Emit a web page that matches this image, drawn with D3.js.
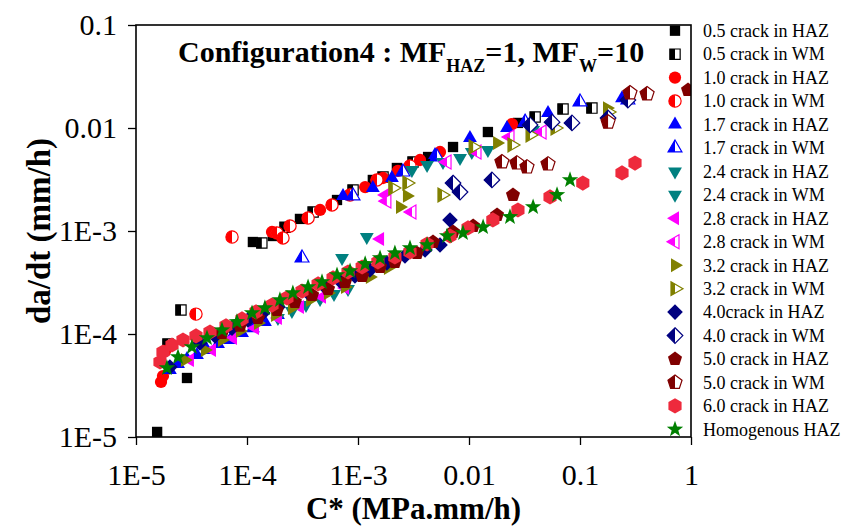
<!DOCTYPE html>
<html lang="en">
<head>
<meta charset="utf-8">
<title>Configuration4 - da/dt vs C*</title>
<script src="https://cdn.jsdelivr.net/npm/d3@7"></script>
<style>
  body { margin: 0; background: #fff; }
  text { font-family: "Liberation Serif", "Times New Roman", serif; fill: #000; }
</style>
</head>
<body>
<div id="chart"></div>
<script>
// ---- data : [C* (MPa.mm/h), da/dt (mm/h)] ----
const s05HAZ = [[1.55e-5,1.12e-5],[2.88e-5,3.74e-5],[1.13e-4,7.82e-4],[1.71e-4,8.94e-4],[3.0e-4,1.31e-3],[6.47e-4,2.0e-3],
  [1.36e-3,3.13e-3],[2.24e-3,4.09e-3],[4.28e-3,5.23e-3],[7.18e-3,6.54e-3],[1.48e-2,9.14e-3],[2.76e-2,1.12e-2]];
const s05WM = [[1.94e-5,8.0e-5],[2.54e-5,1.71e-4],[1.36e-4,7.65e-4],[2.2e-4,1.09e-3],[3.94e-4,1.53e-3],[9.02e-4,2.5e-3],
  [1.68e-3,3.34e-3],[3.13e-3,4.68e-3],[3.94e-2,1.28e-2],[7.03e-2,1.53e-2],[0.128,1.56e-2]];
const s10HAZ = [[1.68e-5,3.42e-5],[1.75e-5,3.91e-5],[1.83e-5,6.84e-5],[1.68e-4,9.78e-4],[4.55e-4,1.6e-3],[1.16e-3,2.67e-3],
  [1.68e-3,3.27e-3],[2.29e-3,3.83e-3],[3.62e-3,4.89e-3],[5.48e-3,5.85e-3],[2.44e-2,1.09e-2]];
const s10WM = [[3.47e-5,1.56e-4],[7.33e-5,8.75e-4],[1.86e-4,9.57e-4],[2.11e-4,8.56e-4],[2.44e-4,1.12e-3],[3.55e-4,1.34e-3],
  [5.83e-4,1.79e-3],[8.48e-4,2.24e-3],[1.48e-3,3.13e-3],[2.94e-3,4.28e-3]];
const s17HAZ = [[2.02e-5,4.47e-5],[2.39e-5,5.12e-5],[2.88e-5,5.72e-5],[3.54e-5,6.25e-5],[4.36e-5,6.99e-5],[5.48e-5,8.0e-5],
  [7.03e-5,8.74e-5],[9.02e-5,1.02e-4],[1.13e-4,1.14e-4],[1.45e-4,1.31e-4],[1.9e-4,1.53e-4],[7.33e-4,2.19e-3],
  [1.36e-3,2.61e-3],[2.02e-3,3.27e-3],[4.94e-3,5.47e-3],[1.02e-2,8.0e-3],[2.2e-2,1.0e-2],[5.15e-2,1.4e-2],[0.239,1.95e-2]];
const s17WM = [[3.13e-4,5.47e-4],[9.02e-4,2.19e-3],[2.54e-3,3.74e-3],[5.15e-3,5.23e-3],[3.2e-2,1.14e-2],[0.1,1.79e-2],[0.27,1.87e-2]];
const s24HAZ = [[1.9e-4,1.43e-4],[2.54e-4,1.67e-4],[3.4e-4,1.91e-4],[4.55e-4,2.19e-4],[6.08e-4,2.45e-4],[8.13e-4,2.73e-4],
  [7.18e-4,5.47e-4],[1.2e-3,8.75e-4]];
const s24WM = [[3.06e-3,3.91e-3],[4.19e-3,4.37e-3],[5.83e-3,4.68e-3],[8.3e-3,5.12e-3],[1.06e-2,5.85e-3],[1.48e-2,6.11e-3],[3.78e-2,9.57e-3]];
const s28HAZ = [[3.06e-5,5.59e-5],[4.84e-5,6.99e-5],[7.48e-5,9.14e-5],[1.18e-4,1.14e-4],[1.9e-4,1.43e-4],[3.0e-4,1.83e-4],
  [4.74e-4,2.29e-4],[7.64e-4,2.8e-4],[1.16e-3,4.18e-4],[1.58e-3,8.36e-4],[1.75e-3,2.24e-3]];
const s28WM = [[1.82e-3,1.95e-3],[3.06e-3,1.53e-3],[6.34e-3,4.68e-3],[1.18e-2,5.85e-3],[2.34e-2,8.18e-3],[4.55e-2,9.14e-3]];
const s32HAZ = [[2.76e-5,5.59e-5],[4.18e-5,6.99e-5],[5.95e-5,8.74e-5],[8.65e-5,1.07e-4],[1.256e-4,1.28e-4],[1.79e-4,1.53e-4],
  [2.54e-4,1.79e-4],[3.7e-4,2.14e-4],[5.37e-4,2.5e-4],[7.64e-4,2.86e-4],[1.28e-3,3.58e-4],[1.86e-3,4.37e-4],
  [2.39e-3,1.71e-3],[2.76e-3,2.19e-3],[1.79e-2,7.15e-3],[0.175,1.56e-2]];
const s32WM = [[2.06e-3,2.61e-3],[2.76e-3,2.92e-3],[5.71e-3,2.24e-3],[1.09e-2,6.54e-3],[2.44e-2,6.84e-3],[3.55e-2,8.56e-3],
  [5.96e-2,1.0e-2],[0.179,1.43e-2]];
const s40HAZ = [[2.02e-5,4.79e-5],[3.77e-5,8.18e-5],[5.15e-5,9.57e-5],[7.33e-5,1.14e-4],[1.02e-4,1.37e-4],[1.39e-4,1.6e-4],
  [1.9e-4,1.83e-4],[2.59e-4,2.14e-4],[3.55e-4,2.5e-4],[5.04e-4,2.86e-4],[6.89e-4,3.27e-4],[9.39e-4,3.66e-4],
  [1.28e-3,4.18e-4],[1.82e-3,4.89e-4],[2.65e-3,5.72e-4],[4.02e-3,6.54e-4],[5.48e-3,7.31e-4],[6.74e-3,1.28e-3]];
const s40WM = [[7.18e-3,2.92e-3],[8.3e-3,2.39e-3],[1.61e-2,3.13e-3],[3.55e-2,1.07e-2],[5.6e-2,1.14e-2],[8.47e-2,1.12e-2],
  [0.179,1.25e-2],[0.27,1.87e-2]];
const s50HAZ = [[5.95e-5,1.02e-4],[8.65e-5,1.2e-4],[1.256e-4,1.43e-4],[1.86e-4,1.71e-4],[2.7e-4,2.05e-4],[3.86e-4,2.39e-4],
  [5.37e-4,2.73e-4],[7.64e-4,3.2e-4],[1.09e-3,3.66e-4],[1.58e-3,4.47e-4],[2.15e-3,5.0e-4],[3.4e-3,6.11e-4],
  [4.74e-3,7.82e-4],[7.18e-3,9.78e-4],[1.09e-2,1.12e-3],[1.79e-2,1.43e-3],[2.49e-2,2.24e-3],[0.94,2.34e-2]];
const s50WM = [[1.98e-2,4.68e-3],[2.7e-2,4.57e-3],[3.33e-2,4.18e-3],[5.15e-2,4.47e-3],[0.179,1.14e-2],[0.282,2.19e-2],[0.402,2.14e-2]];
const s60HAZ = [[1.645e-5,5.35e-5],[1.75e-5,6.68e-5],[2.11e-5,7.82e-5],[2.65e-5,8.74e-5],[3.47e-5,9.57e-5],[4.64e-5,1.045e-4],
  [6.47e-5,1.2e-4],[9.02e-5,1.4e-4],[1.205e-4,1.64e-4],[1.68e-4,1.91e-4],[2.29e-4,2.24e-4],[3.13e-4,2.61e-4],
  [4.37e-4,3.06e-4],[5.96e-4,3.5e-4],[8.13e-4,4.0e-4],[1.09e-3,4.47e-4],[1.51e-3,5.0e-4],[2.15e-3,5.6e-4],
  [2.94e-3,6.25e-4],[4.19e-3,7.48e-4],[6.74e-3,8.94e-4],[9.8e-3,1.07e-3],[1.64e-2,1.28e-3],[2.76e-2,1.6e-3],
  [5.37e-2,2.14e-3],[0.106,2.92e-3],[0.239,3.66e-3],[0.313,4.57e-3]];
const sHomo = [[1.9e-5,4.68e-5],[2.39e-5,5.98e-5],[3.19e-5,7.48e-5],[4.36e-5,9.14e-5],[5.95e-5,1.09e-4],[8.12e-5,1.31e-4],
  [1.11e-4,1.6e-4],[1.45e-4,1.79e-4],[1.98e-4,2.14e-4],[2.59e-4,2.5e-4],[3.55e-4,2.86e-4],[4.74e-4,3.2e-4],
  [6.47e-4,3.74e-4],[8.48e-4,4.09e-4],[1.16e-3,4.79e-4],[1.58e-3,5.47e-4],[2.15e-3,6.11e-4],[2.94e-3,6.84e-4],
  [4.19e-3,7.31e-4],[6.34e-3,8.94e-4],[8.83e-3,9.57e-4],[1.34e-2,1.09e-3],[2.34e-2,1.37e-3],[3.78e-2,1.71e-3],
  [6.21e-2,2.24e-3],[8.13e-2,3.13e-3]];

const xTicks = [1e-5, 1e-4, 1e-3, 0.01, 0.1, 1];
const xTickLabels = ["1E-5", "1E-4", "1E-3", "0.01", "0.1", "1"];
const yTicks = [1e-5, 1e-4, 1e-3, 0.01, 0.1];
const yTickLabels = ["1E-5", "1E-4", "1E-3", "0.01", "0.1"];

// series: name, data, marker, colour, fill ("full" or "half")
const series = [
  {name: "0.5 crack in HAZ", data: s05HAZ, shape: "square", color: "#000000", fill: "full"},
  {name: "0.5 crack in WM", data: s05WM, shape: "square", color: "#000000", fill: "half"},
  {name: "1.0 crack in HAZ", data: s10HAZ, shape: "circle", color: "#ff0000", fill: "full"},
  {name: "1.0 crack in WM", data: s10WM, shape: "circle", color: "#ff0000", fill: "half"},
  {name: "1.7 crack in HAZ", data: s17HAZ, shape: "up", color: "#0000ff", fill: "full"},
  {name: "1.7 crack in WM", data: s17WM, shape: "up", color: "#0000ff", fill: "half"},
  {name: "2.4 crack in HAZ", data: s24HAZ, shape: "down", color: "#008080", fill: "full"},
  {name: "2.4 crack in WM", data: s24WM, shape: "down", color: "#008080", fill: "full"},
  {name: "2.8 crack in HAZ", data: s28HAZ, shape: "left", color: "#ff00ff", fill: "full"},
  {name: "2.8 crack in WM", data: s28WM, shape: "left", color: "#ff00ff", fill: "half"},
  {name: "3.2 crack in HAZ", data: s32HAZ, shape: "right", color: "#808000", fill: "full"},
  {name: "3.2 crack in WM", data: s32WM, shape: "right", color: "#808000", fill: "half"},
  {name: "4.0crack in HAZ", data: s40HAZ, shape: "diamond", color: "#000080", fill: "full"},
  {name: "4.0 crack in WM", data: s40WM, shape: "diamond", color: "#000080", fill: "half"},
  {name: "5.0 crack in HAZ", data: s50HAZ, shape: "pentagon", color: "#800000", fill: "full"},
  {name: "5.0 crack in WM", data: s50WM, shape: "pentagon", color: "#800000", fill: "half"},
  {name: "6.0 crack in HAZ", data: s60HAZ, shape: "hexagon", color: "#ee2a3c", fill: "full"},
  {name: "Homogenous HAZ", data: sHomo, shape: "star", color: "#008000", fill: "full"}
];

// ---- layout ----
const width = 861, height = 527;
const plot = {left: 136, right: 691, top: 25, bottom: 437};

const svg = d3.select("#chart").append("svg")
  .attr("width", width)
  .attr("height", height);

const x = d3.scaleLog().domain([1e-5, 1]).range([plot.left, plot.right]);
const y = d3.scaleLog().domain([1e-5, 0.1]).range([plot.bottom, plot.top]);

// marker paths, centred on 0,0
function poly(n, r, rot) {
  let pts = [];
  for (let i = 0; i < n; i++) {
    let a = (rot + i * 360 / n - 90) * Math.PI / 180;
    pts.push([r * Math.cos(a), r * Math.sin(a)]);
  }
  return "M" + pts.map(p => p[0].toFixed(2) + "," + p[1].toFixed(2)).join("L") + "Z";
}
function star(ro, ri) {
  let pts = [];
  for (let i = 0; i < 10; i++) {
    let r = i % 2 ? ri : ro;
    let a = (i * 36 - 90) * Math.PI / 180;
    pts.push([r * Math.cos(a), r * Math.sin(a)]);
  }
  return "M" + pts.map(p => p[0].toFixed(2) + "," + p[1].toFixed(2)).join("L") + "Z";
}
const shapes = {
  square: poly(4, 7.3, 45),
  circle: d3.symbol(d3.symbolCircle, 118)(),
  up: poly(3, 8, 0),
  down: poly(3, 8, 180),
  left: poly(3, 8, -90),
  right: poly(3, 8, 90),
  diamond: poly(4, 7.8, 0),
  pentagon: poly(5, 7.4, 0),
  hexagon: poly(6, 7.6, 0),
  star: star(8.6, 3.5)
};

const defs = svg.append("defs");
defs.append("clipPath").attr("id", "plotClip")
  .append("rect")
  .attr("x", plot.left).attr("y", plot.top)
  .attr("width", plot.right - plot.left).attr("height", plot.bottom - plot.top);
defs.append("clipPath").attr("id", "leftHalf")
  .append("rect").attr("x", -12).attr("y", -12).attr("width", 12).attr("height", 24);

function drawMarker(g, s) {
  if (s.fill === "half") {
    g.append("path").attr("d", shapes[s.shape])
      .attr("fill", "#fff").attr("stroke", s.color).attr("stroke-width", 1.2);
    g.append("path").attr("d", shapes[s.shape])
      .attr("fill", s.color).attr("clip-path", "url(#leftHalf)");
  } else {
    g.append("path").attr("d", shapes[s.shape])
      .attr("fill", s.color);
  }
}

// ---- points ----
const pts = svg.append("g").attr("clip-path", "url(#plotClip)");
series.forEach(s => {
  pts.append("g").selectAll("g")
    .data(s.data)
    .join("g")
    .attr("transform", d => "translate(" + x(d[0]) + "," + y(d[1]) + ")")
    .each(function() { drawMarker(d3.select(this), s); });
});

// ---- axes ----
function minorTicks(lo, hi) {
  let out = [];
  for (let e = lo; e < hi; e++)
    for (let m = 2; m <= 9; m++) out.push(m * Math.pow(10, e));
  return out;
}

const xAxisG = svg.append("g").attr("transform", "translate(0," + plot.bottom + ")");
xAxisG.call(d3.axisBottom(x).tickValues(minorTicks(-5, 0)).tickFormat("").tickSize(4));
xAxisG.call(d3.axisBottom(x).tickValues(xTicks).tickFormat((d, i) => xTickLabels[i]).tickSize(8).tickPadding(19));

const yAxisG = svg.append("g").attr("transform", "translate(" + plot.left + ",0)");
yAxisG.call(d3.axisLeft(y).tickValues(minorTicks(-5, -1)).tickFormat("").tickSize(4));
yAxisG.call(d3.axisLeft(y).tickValues(yTicks).tickFormat((d, i) => yTickLabels[i]).tickSize(8).tickPadding(11));

svg.selectAll(".domain").remove();
svg.selectAll(".tick line").attr("stroke", "#000").attr("stroke-width", 1.3);
svg.selectAll(".tick text")
  .style("font-family", "'Liberation Serif', 'Times New Roman', serif")
  .style("font-size", "30px").attr("fill", "#000");

// frame
svg.append("rect")
  .attr("x", plot.left).attr("y", plot.top)
  .attr("width", plot.right - plot.left).attr("height", plot.bottom - plot.top)
  .attr("fill", "none").attr("stroke", "#000").attr("stroke-width", 1.6);

// axis titles
svg.append("text")
  .attr("x", (plot.left + plot.right) / 2).attr("y", 519)
  .attr("text-anchor", "middle")
  .style("font-size", "31px").style("font-weight", "bold")
  .text("C* (MPa.mm/h)");

svg.append("text")
  .attr("transform", "translate(50," + (plot.top + plot.bottom) / 2 + ") rotate(-90)")
  .attr("text-anchor", "middle")
  .style("font-size", "33px").style("font-weight", "bold")
  .text("da/dt (mm/h)");

// chart title with subscripts
const title = svg.append("text")
  .attr("x", 178).attr("y", 62)
  .style("font-size", "30px").style("font-weight", "bold");
title.append("tspan").text("Configuration4 : MF");
title.append("tspan").attr("dy", 10).style("font-size", "18px").text("HAZ");
title.append("tspan").attr("dy", -10).text("=1, MF");
title.append("tspan").attr("dy", 10).style("font-size", "18px").text("W");
title.append("tspan").attr("dy", -10).text("=10");

// ---- legend ----
const legend = svg.append("g");
const rowH = 23.45;
series.forEach((s, i) => {
  const row = legend.append("g").attr("transform", "translate(675," + (30.7 + i * rowH) + ")");
  drawMarker(row, s);
  row.append("text")
    .attr("x", 28).attr("dy", "0.35em")
    .style("font-size", "18px")
    .text(s.name);
});
</script>
</body>
</html>
